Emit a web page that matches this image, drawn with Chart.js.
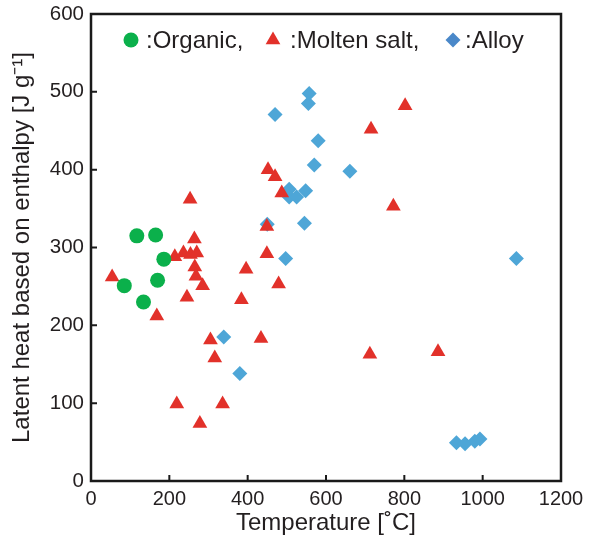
<!DOCTYPE html>
<html>
<head>
<meta charset="utf-8">
<script src="https://cdn.jsdelivr.net/npm/chart.js@4.4.0/dist/chart.umd.min.js"></script>
<style>
  html, body { margin: 0; padding: 0; background: #fff; }
  #wrap { width: 592px; height: 548px; }
</style>
</head>
<body>
<div id="wrap"><canvas id="heatChart" width="592" height="548"></canvas></div>
<script>
var organicT = [117, 165, 186, 170, 85, 134];
var organicH = [315, 316, 285, 258, 251, 230];

var saltT = [54, 168, 214, 219, 236, 245, 253, 254, 264, 265, 268, 270, 278, 285, 305, 316, 336, 384, 396, 434, 449, 449, 452, 470, 479, 487, 712, 715, 772, 802, 886];
var saltH = [262, 212, 288, 99, 293, 236, 362, 291, 311, 275, 263, 293, 74, 251, 181, 158, 99, 233, 272, 183, 292, 327, 400, 391, 253, 370, 163, 452, 353, 482, 166];

var alloyT = [339, 380, 450, 470, 497, 506, 506, 525, 545, 548, 555, 557, 570, 580, 661, 933, 955, 980, 993, 1086];
var alloyH = [185, 138, 330, 471, 286, 375, 365, 365, 331, 373, 485, 498, 406, 437, 398, 49, 48, 51, 54, 286];

var xTicks = [0, 200, 400, 600, 800, 1000, 1200];
var yTicks = [0, 100, 200, 300, 400, 500, 600];

var legendNames = [':Organic,', ':Molten salt,', ':Alloy'];

function pts(xs, ys) {
  var out = [];
  xs.forEach(function(x, i) { out.push({ x: x, y: ys[i] }); });
  return out;
}

window.onload = function() {
  var ctx = document.getElementById('heatChart').getContext('2d');
  var font = "'Liberation Sans', Arial, sans-serif";
  var ink = '#231f20';

  var framePlugin = {
    id: 'frame',
    afterDraw: function(chart) {
      var a = chart.chartArea;
      var c = chart.ctx;
      var xs = chart.scales.x, ys = chart.scales.y;
      c.save();
      c.strokeStyle = '#1a1a1a';
      c.lineWidth = 2;
      // inward tick marks on bottom and left
      c.beginPath();
      xTicks.forEach(function(v) {
        var px = xs.getPixelForValue(v);
        c.moveTo(px, a.bottom);
        c.lineTo(px, a.bottom - 6);
      });
      yTicks.forEach(function(v) {
        var py = ys.getPixelForValue(v);
        c.moveTo(a.left, py);
        c.lineTo(a.left + 6, py);
      });
      c.stroke();
      c.lineWidth = 2.5;
      c.strokeRect(a.left, a.top, a.right - a.left, a.bottom - a.top);

      // legend inside the plot
      var ly = a.top + 26;
      var marks = [131, 273, 453];
      var texts = [146, 290, 465];
      var legendColors = ['#0bb04b', '#e2312a', '#4a88c9'];
      c.font = '24px ' + font;
      c.textBaseline = 'middle';
      chart.data.datasets.forEach(function(ds, i) {
        c.fillStyle = legendColors[i];
        c.strokeStyle = legendColors[i];
        Chart.helpers.drawPoint(c, { pointStyle: ds.pointStyle, radius: ds.pointRadius, rotation: 0, borderWidth: 0 }, marks[i], ly);
        c.fillStyle = ink;
        c.fillText(legendNames[i], texts[i], ly + 1);
      });
      c.restore();
    }
  };

  new Chart(ctx, {
    type: 'scatter',
    data: {
      datasets: [{
        label: 'Organic',
        data: pts(organicT, organicH),
        pointStyle: 'circle',
        pointRadius: 7.5,
        backgroundColor: '#0bb04b',
        borderWidth: 0
      }, {
        label: 'Molten salt',
        data: pts(saltT, saltH),
        pointStyle: 'triangle',
        pointRadius: 8.5,
        backgroundColor: '#e2312a',
        borderWidth: 0
      }, {
        label: 'Alloy',
        data: pts(alloyT, alloyH),
        pointStyle: 'rectRot',
        pointRadius: 7.5,
        backgroundColor: '#4ea6d7',
        borderWidth: 0
      }]
    },
    options: {
      responsive: false,
      animation: false,
      layout: { padding: { left: 0, right: 31, top: 14, bottom: 0 } },
      plugins: {
        legend: { display: false },
        tooltip: { enabled: false }
      },
      scales: {
        x: {
          type: 'linear',
          min: 0, max: 1200,
          afterBuildTicks: function(s) { s.ticks = xTicks.map(function(v) { return { value: v }; }); },
          afterFit: function(s) { s.height = 67; s.paddingLeft = 0; s.paddingRight = 0; },
          border: { display: false },
          grid: { display: false, drawTicks: false },
          ticks: { padding: 6, color: ink, font: { family: font, size: 20 }, maxRotation: 0, callback: function(v) { return String(v); } },
          title: { display: true, text: 'Temperature [˚C]', color: ink, font: { family: font, size: 24 }, padding: { top: 0, bottom: 10 } }
        },
        y: {
          type: 'linear',
          min: 0, max: 600,
          afterBuildTicks: function(s) { s.ticks = yTicks.map(function(v) { return { value: v }; }); },
          afterFit: function(s) { s.width = 91; s.paddingTop = 0; s.paddingBottom = 0; },
          border: { display: false },
          grid: { display: false, drawTicks: false },
          ticks: { padding: 7, color: ink, font: { family: font, size: 20.5 }, callback: function(v) { return String(v); } },
          title: { display: true, text: 'Latent heat based on enthalpy [J g⁻¹]', color: ink, font: { family: font, size: 24 }, padding: { top: 8, bottom: 0 } }
        }
      }
    },
    plugins: [framePlugin]
  });
};
</script>
</body>
</html>
